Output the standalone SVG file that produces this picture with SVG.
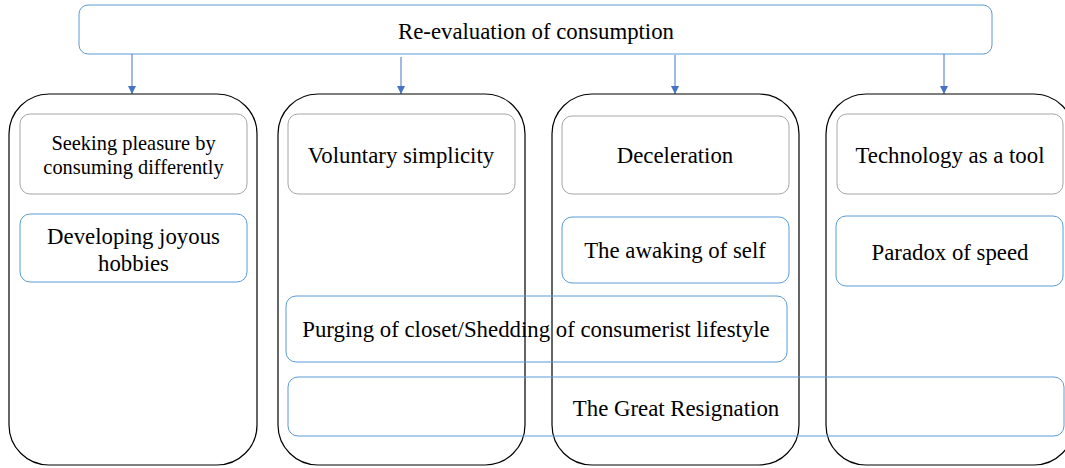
<svg xmlns="http://www.w3.org/2000/svg" width="1065" height="468" viewBox="0 0 1065 468">
<defs>
<style>
text{font-family:"Liberation Serif","Times New Roman",serif;fill:#000;text-anchor:middle}
.t{font-size:22.8px}
.s{font-size:20.4px}
.col{fill:none;stroke:#000;stroke-width:1.2}
.gray{fill:none;stroke:#A6A6A6;stroke-width:1}
.blue{fill:none;stroke:#5B9BD5;stroke-width:1}
.arr{stroke:#4472C4;stroke-width:1;fill:none}
</style>
<marker id="ah" viewBox="0 0 10 10" refX="10" refY="5" markerWidth="8" markerHeight="8" markerUnits="userSpaceOnUse" orient="auto">
<path d="M0,0 L10,5 L0,10 z" fill="#4472C4"/>
</marker>
</defs>
<rect width="1065" height="468" fill="#fff"/>
<g id="top">
<rect x="79" y="5" width="913" height="49" rx="9" class="blue"/>
<text class="t" x="536" y="39">Re-evaluation of consumption</text>
</g>
<g id="connectors">
<line x1="132" y1="54" x2="132" y2="94" class="arr" marker-end="url(#ah)"/>
<line x1="401" y1="57" x2="401" y2="94" class="arr" marker-end="url(#ah)"/>
<line x1="675" y1="55" x2="675" y2="94" class="arr" marker-end="url(#ah)"/>
<line x1="944" y1="54" x2="944" y2="94" class="arr" marker-end="url(#ah)"/>
</g>
<g id="col1"><rect x="9" y="94" width="248" height="371" rx="40" class="col"/></g>
<g id="col2"><rect x="278" y="94" width="247" height="371" rx="40" class="col"/></g>
<g id="col3"><rect x="552" y="94" width="247" height="371" rx="40" class="col"/></g>
<g id="col4"><rect x="826" y="94" width="248" height="371" rx="40" class="col"/></g>
<g id="seeking">
<rect x="20" y="114" width="227" height="80" rx="10" class="gray"/>
<text class="s" x="133.5" y="150">Seeking pleasure by</text>
<text class="s" x="133.5" y="174">consuming differently</text>
</g>
<g id="hobbies">
<rect x="20" y="214" width="227" height="68" rx="10" class="blue"/>
<text class="t" x="133.5" y="244">Developing joyous</text>
<text class="t" x="133.5" y="271">hobbies</text>
</g>
<g id="voluntary">
<rect x="288" y="114" width="227" height="80" rx="10" class="gray"/>
<text class="t" x="401" y="163">Voluntary simplicity</text>
</g>
<g id="deceleration">
<rect x="562" y="116" width="227" height="78" rx="10" class="gray"/>
<text class="t" x="675" y="163">Deceleration</text>
</g>
<g id="awaking">
<rect x="562" y="217" width="227" height="66" rx="10" class="blue"/>
<text class="t" x="675" y="258">The awaking of self</text>
</g>
<g id="technology">
<rect x="837" y="114" width="226" height="80" rx="10" class="gray"/>
<text class="t" x="950" y="163">Technology as a tool</text>
</g>
<g id="paradox">
<rect x="836" y="216" width="227" height="70" rx="10" class="blue"/>
<text class="t" x="950" y="260">Paradox of speed</text>
</g>
<g id="purging">
<rect x="286" y="296" width="501" height="66" rx="10" class="blue"/>
<text class="t" x="536" y="337">Purging of closet/Shedding of consumerist lifestyle</text>
</g>
<g id="resignation">
<rect x="288" y="377" width="776" height="59" rx="10" class="blue"/>
<text class="t" x="676" y="416">The Great Resignation</text>
</g>
</svg>
